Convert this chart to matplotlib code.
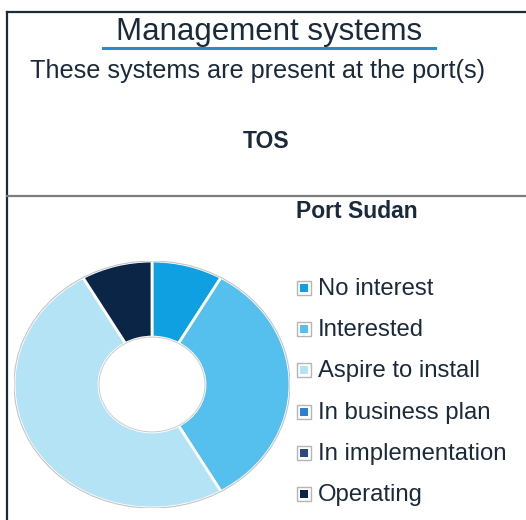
import matplotlib
matplotlib.use("Agg")
import matplotlib.pyplot as plt
from matplotlib.patches import Rectangle, Circle
from matplotlib.lines import Line2D

plt.rcParams["font.family"] = ["Liberation Sans", "DejaVu Sans"]

titulo = "Management systems"
subtitulo = "These systems are present at the port(s)"
sistema = "TOS"
porto = "Port Sudan"
categorias = ["No interest", "Interested", "Aspire to install",
              "In business plan", "In implementation", "Operating"]
valores = [1, 4, 6, 0, 0, 1]

cores = ["#0ea0e0", "#55bfee", "#b4e3f5", "#2f7fcf", "#2b4a82", "#0b2546"]
cor_texto = "#1b2a3b"

W, H = 526, 520
fig = plt.figure(figsize=(W / 100, H / 100), dpi=100)


def fx(px):
    return px / W


def fy(py):
    return 1 - py / H


# moldura e divisoria
fig.add_artist(Line2D([fx(6.5), fx(6.5)], [fy(11.5), fy(525)], color="#1c2b3a", lw=1.6))
fig.add_artist(Line2D([fx(6.5), fx(530)], [fy(11.5), fy(11.5)], color="#1c2b3a", lw=1.6))
fig.add_artist(Line2D([fx(7), fx(530)], [fy(195.5), fy(195.5)], color="#7d7d7d", lw=1.6))

# textos do cabecalho
fig.text(fx(269), fy(40), titulo, ha="center", va="baseline", fontsize=22.5, color=cor_texto)
fig.add_artist(Line2D([fx(103), fx(435)], [fy(48), fy(48)], color="#2a8cc4", lw=2.2))
fig.text(fx(258), fy(78), subtitulo, ha="center", va="baseline", fontsize=18.2, color=cor_texto)
fig.text(fx(266), fy(148), sistema, ha="center", va="baseline", fontsize=16.5,
         fontweight="bold", color=cor_texto)
fig.text(fx(357), fy(218), porto, ha="center", va="baseline", fontsize=16.5,
         fontweight="bold", color=cor_texto)

# rosca
ax = fig.add_axes([fx(14), fy(508), fx(276), 247 / H])
idx = [i for i, v in enumerate(valores) if v > 0]
ax.pie([valores[i] for i in idx], colors=[cores[i] for i in idx],
       startangle=90, counterclock=False, radius=1,
       wedgeprops=dict(width=0.616, edgecolor="white", linewidth=2))
ax.add_patch(Circle((0, 0), 1.0, fill=False, edgecolor="#c4c4c4", lw=0.8))
ax.add_patch(Circle((0, 0), 0.384, fill=False, edgecolor="#d0d0d0", lw=0.8))
ax.set_xlim(-1.0, 1.0)
ax.set_ylim(-1.0, 1.0)
ax.set_aspect("auto")
ax.axis("off")

# legenda
for k, (cat, cor) in enumerate(zip(categorias, cores)):
    yc = 288 + 41.2 * k
    fig.add_artist(Rectangle((fx(297), fy(yc + 7)), fx(14), 14 / H,
                             facecolor="white", edgecolor="#b5b5b5", lw=1.0))
    fig.add_artist(Rectangle((fx(300), fy(yc + 4)), fx(8), 8 / H,
                             facecolor=cor, edgecolor="none"))
    fig.text(fx(318), fy(yc + 7), cat, ha="left", va="baseline", fontsize=17.2, color=cor_texto)

fig.savefig("out.png", dpi=100)
